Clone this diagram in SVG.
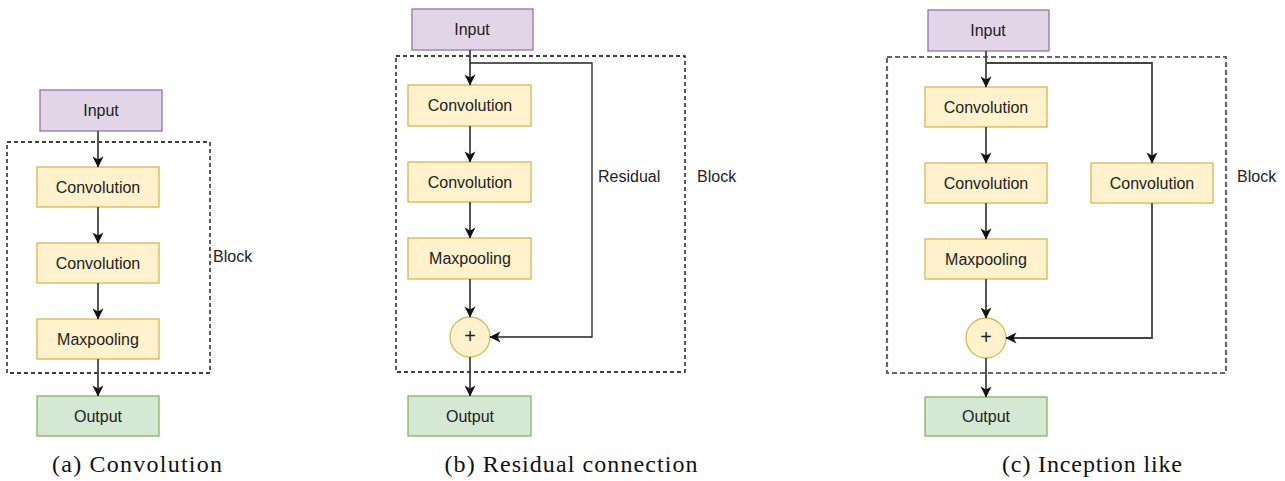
<svg xmlns="http://www.w3.org/2000/svg" width="1285" height="481" viewBox="0 0 1285 481">
  <style>
    .lbl { font-family: "Liberation Sans", Arial, sans-serif; font-size: 16px; fill: #222; text-anchor: middle; dominant-baseline: central; }
    .plus { font-family: "Liberation Sans", Arial, sans-serif; font-size: 20px; fill: #222; text-anchor: middle; dominant-baseline: central; }
    .side { font-family: "Liberation Sans", Arial, sans-serif; font-size: 16px; fill: #222; }
    .cap { font-family: "Liberation Serif", "Times New Roman", serif; font-size: 24px; fill: #111; text-anchor: middle; }
    .in { fill: #e1d5e7; stroke: #9673a6; stroke-width: 1.3; }
    .op { fill: #fff2cc; stroke: #d6b656; stroke-width: 1.3; }
    .out { fill: #d5e8d4; stroke: #82b366; stroke-width: 1.3; }
    .blk { fill: none; stroke: #000; stroke-width: 1.3; stroke-dasharray: 4 3; }
    .blk2 { fill: none; stroke: #666; stroke-width: 2.2; stroke-dasharray: 5 3; }
    .edge { fill: none; stroke: #444; stroke-width: 1.8; marker-end: url(#arrow); }
  </style>
  <defs>
    <marker id="arrow" markerUnits="userSpaceOnUse" markerWidth="12" markerHeight="12" viewBox="0 0 12 12" refX="11" refY="6" orient="auto">
      <path d="M0.5,0.5 L11.5,6 L0.5,11.5 L3.5,6 Z" fill="#111"/>
    </marker>
  </defs>

  <!-- block outlines and side labels -->
  <g id="blocks">
    <rect class="blk" x="7" y="142" width="203" height="231"/>
    <text class="side" x="213" y="262">Block</text>
    <rect class="blk" x="396" y="56" width="289" height="316"/>
    <text class="side" x="697" y="182">Block</text>
    <rect class="blk2" x="887" y="57" width="339" height="316"/>
    <text class="side" x="1237" y="182">Block</text>
  </g>

  <!-- (a) plain convolution stack -->
  <g id="a-input"><rect class="in" x="40" y="90" width="122" height="41"/><text class="lbl" x="101" y="110.5">Input</text></g>
  <g id="a-conv1"><rect class="op" x="37" y="167" width="122" height="40"/><text class="lbl" x="98" y="187">Convolution</text></g>
  <g id="a-conv2"><rect class="op" x="37" y="243" width="122" height="40"/><text class="lbl" x="98" y="263">Convolution</text></g>
  <g id="a-pool"><rect class="op" x="37" y="319" width="122" height="40"/><text class="lbl" x="98" y="339">Maxpooling</text></g>
  <g id="a-output"><rect class="out" x="37" y="396" width="122" height="40"/><text class="lbl" x="98" y="416">Output</text></g>

  <!-- (b) residual connection -->
  <g id="b-input"><rect class="in" x="412" y="9" width="121" height="41"/><text class="lbl" x="472" y="29.5">Input</text></g>
  <g id="b-conv1"><rect class="op" x="408" y="85" width="123" height="41"/><text class="lbl" x="470" y="105.5">Convolution</text></g>
  <g id="b-conv2"><rect class="op" x="408" y="162" width="123" height="40"/><text class="lbl" x="470" y="182">Convolution</text></g>
  <g id="b-pool"><rect class="op" x="408" y="238" width="123" height="41"/><text class="lbl" x="470" y="258.5">Maxpooling</text></g>
  <g id="b-add"><circle class="op" cx="470" cy="337" r="20"/><text class="plus" x="470" y="336">+</text></g>
  <g id="b-output"><rect class="out" x="408" y="396" width="123" height="40"/><text class="lbl" x="470" y="416">Output</text></g>

  <!-- (c) inception-like branch -->
  <g id="c-input"><rect class="in" x="928" y="10" width="121" height="41"/><text class="lbl" x="988" y="30.5">Input</text></g>
  <g id="c-conv1"><rect class="op" x="925" y="87" width="122" height="40"/><text class="lbl" x="986" y="107">Convolution</text></g>
  <g id="c-conv2"><rect class="op" x="925" y="163" width="122" height="40"/><text class="lbl" x="986" y="183">Convolution</text></g>
  <g id="c-conv3"><rect class="op" x="1091" y="163" width="122" height="40"/><text class="lbl" x="1152" y="183">Convolution</text></g>
  <g id="c-pool"><rect class="op" x="925" y="239" width="122" height="40"/><text class="lbl" x="986" y="259">Maxpooling</text></g>
  <g id="c-add"><circle class="op" cx="986" cy="338" r="20"/><text class="plus" x="986" y="337">+</text></g>
  <g id="c-output"><rect class="out" x="925" y="397" width="122" height="39"/><text class="lbl" x="986" y="416.5">Output</text></g>

  <g id="connectors">
    <path class="edge" d="M98,131 V167"/>
    <path class="edge" d="M98,207 V243"/>
    <path class="edge" d="M98,283 V319"/>
    <path class="edge" d="M98,359 V396"/>

    <path class="edge" d="M470,50 V85"/>
    <path class="edge" d="M470,126 V162"/>
    <path class="edge" d="M470,202 V238"/>
    <path class="edge" d="M470,279 V317"/>
    <path class="edge" d="M470,357 V396"/>
    <path class="edge" d="M470,63 H592 V337 H490" style="stroke:#222;stroke-width:1.3"/>

    <path class="edge" d="M986,51 V87"/>
    <path class="edge" d="M986,127 V163"/>
    <path class="edge" d="M986,203 V239"/>
    <path class="edge" d="M986,279 V318"/>
    <path class="edge" d="M986,358 V397"/>
    <path class="edge" d="M986,63 H1152 V163"/>
    <path class="edge" d="M1152,203 V338 H1006"/>
  </g>

  <text class="side" x="598" y="182">Residual</text>

  <g id="captions">
    <text class="cap" x="137" y="472" textLength="170" lengthAdjust="spacing">(a) Convolution</text>
    <text class="cap" x="571" y="472" textLength="253" lengthAdjust="spacing">(b) Residual connection</text>
    <text class="cap" x="1092" y="472" textLength="180" lengthAdjust="spacing">(c) Inception like</text>
  </g>
</svg>
